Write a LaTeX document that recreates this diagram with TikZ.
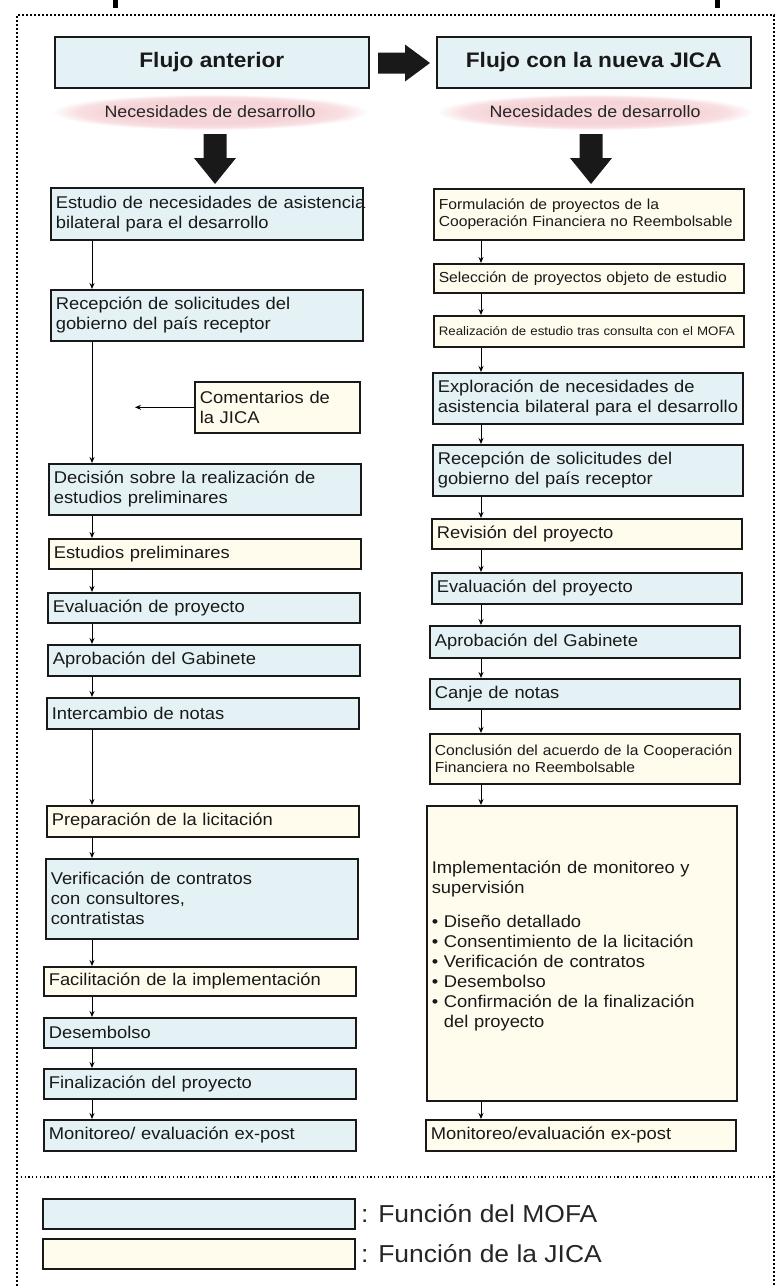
\documentclass[tikz,border=0pt]{standalone}
\usepackage{fontspec}
\setmainfont[FakeStretch=1.08]{Liberation Sans}
\usetikzlibrary{positioning,arrows.meta,shapes.geometric}

\definecolor{mofablue}{RGB}{228,242,246}
\definecolor{jicacream}{RGB}{255,252,238}
\definecolor{needpink}{RGB}{245,210,214}
\pgfdeclareradialshading{needshade}{\pgfpoint{0bp}{0bp}}{color(0bp)=(needpink!80); color(15bp)=(needpink); color(21bp)=(needpink!70); color(25bp)=(white); color(50bp)=(white)}

\newcommand\txtbox{\fontsize{17}{20}\selectfont}
\newcommand\txtsmall{\fontsize{14.5}{17.5}\selectfont}
\newcommand\txttiny{\fontsize{12.3}{14}\selectfont}
\newcommand\txthead{\fontsize{21}{24}\selectfont\bfseries}
\newcommand\txtneed{\fontsize{16.5}{19}\selectfont}
\newcommand\txtlegend{\fontsize{24.5}{28}\selectfont}

\tikzset{
  box/.style={draw=black!90, line width=1.6pt, anchor=north west, align=left,
    inner xsep=5pt, inner ysep=0pt, font=\txtbox, text=black!90},
  mofa/.style={box, fill=mofablue},
  jica/.style={box, fill=jicacream},
  colA/.style={minimum width=312pt, text width=302pt},
  colB/.style={minimum width=310pt, text width=300pt},
  head/.style={mofa, font=\txthead, align=center, minimum width=314pt, minimum height=51pt},
  need/.style={ellipse, shading=needshade, minimum width=318pt,
    minimum height=36pt, inner sep=0pt, font=\txtneed, text=black!85},
  flow/.style={line width=1pt, -{Stealth[length=6pt,width=5pt]}},
  frame/.style={line width=1.8pt, dash pattern=on 1.6pt off 2.4pt},
}

\begin{document}
\begin{tikzpicture}[x=1pt,y=-1pt]
  \useasboundingbox (0,0) rectangle (780,1286);

  % frame and title fragments
  \fill (113,0) rectangle (118,8);
  \fill (715,0) rectangle (720,8);
  \draw[frame] (17,1286) -- (17,15) -- (774,15) -- (774,1286);
  \draw[line width=1.2pt, dash pattern=on 1.2pt off 2.6pt] (17,1177) -- (774,1177);

  % headers
  \node[head] (headA) at (54,36) {Flujo anterior};
  \node[head] (headB) at (436,36) {Flujo con la nueva JICA};
  \coordinate (tipH) at (430,63);
  \fill[black!90] (tipH) -- ++(-25,-18.5) -- ++(0,8) -- ++(-27,0) -- ++(0,21) -- ++(27,0) -- ++(0,8) -- cycle;

  \node[need] (needA) at (210,112) {Necesidades de desarrollo};
  \node[need] (needB) at (595,112) {Necesidades de desarrollo};

  % big arrows
  \coordinate (tipA) at (215,184);
  \coordinate (tipB) at (591,184);
  \fill[black!90] (tipA) -- ++(21,-26) -- ++(-9.5,0) -- ++(0,-24) -- ++(-23,0) -- ++(0,24) -- ++(-9.5,0) -- cycle;
  \fill[black!90] (tipB) -- ++(21,-26) -- ++(-9.5,0) -- ++(0,-24) -- ++(-23,0) -- ++(0,24) -- ++(-9.5,0) -- cycle;

  % left column: previous flow
  \node[mofa, colA, minimum height=52pt] (estudioA) at (50,187) {\mbox{Estudio de necesidades de asistencia}\\bilateral para el desarrollo};
  \node[mofa, colA, minimum height=51pt] (recepA) at (50,289) {Recepción de solicitudes del\\gobierno del país receptor};
  \node[jica, minimum width=165pt, text width=155pt, minimum height=51pt] (comentA) at (194,381) {Comentarios de\\la JICA};
  \node[mofa, colA, minimum height=51pt] (decisionA) at (48,463) {Decisión sobre la realización de\\estudios preliminares};
  \node[jica, colA, minimum height=30pt] (prelimA) at (48,538) {Estudios preliminares};
  \node[mofa, colA, minimum height=30pt] (evalA) at (47,592) {Evaluación de proyecto};
  \node[mofa, colA, minimum height=31pt] (aprobA) at (47,644) {Aprobación del Gabinete};
  \node[mofa, colA, minimum height=31pt] (notasA) at (46,697) {Intercambio de notas};
  \node[jica, colA, minimum height=31pt] (licitA) at (46,805) {Preparación de la licitación};
  \node[mofa, colA, minimum height=80pt] (verifA) at (45,858) {Verificación de contratos\\con consultores,\\contratistas};
  \node[jica, colA, minimum height=29pt] (facilA) at (43,966) {Facilitación de la implementación};
  \node[mofa, colA, minimum height=30pt] (desembA) at (43,1017) {Desembolso};
  \node[mofa, colA, minimum height=30pt] (finalA) at (43,1068) {Finalización del proyecto};
  \node[mofa, colA, minimum height=31pt] (monitA) at (43,1119) {Monitoreo/ evaluación ex-post};

  % right column: new JICA flow
  \node[jica, colB, minimum height=51pt, font=\txtsmall] (formulB) at (433,188) {Formulación de proyectos de la\\Cooperación Financiera no Reembolsable};
  \node[jica, colB, minimum height=29pt, font=\txtsmall] (seleccB) at (433,263) {Selección de proyectos objeto de estudio};
  \node[jica, colB, minimum height=31pt, font=\txttiny] (realizB) at (433,315) {Realización de estudio tras consulta con el MOFA};
  \node[mofa, colB, minimum height=51pt] (explorB) at (432,372) {Exploración de necesidades de\\\mbox{asistencia bilateral para el desarrollo}};
  \node[mofa, colB, minimum height=51pt] (recepB) at (432,444) {Recepción de solicitudes del\\gobierno del país receptor};
  \node[jica, colB, minimum height=30pt] (revisB) at (431,518) {Revisión del proyecto};
  \node[mofa, colB, minimum height=31pt] (evalB) at (431,572) {Evaluación del proyecto};
  \node[mofa, colB, minimum height=32pt] (aprobB) at (429,625) {Aprobación del Gabinete};
  \node[mofa, colB, minimum height=30pt] (canjeB) at (429,678) {Canje de notas};
  \node[jica, colB, minimum height=50pt, font=\txtsmall] (conclB) at (429,733) {Conclusión del acuerdo de la Cooperación\\Financiera no Reembolsable};
  \node[jica, colB, minimum height=295pt] (implB) at (426,805) {Implementación de monitoreo y\\supervisión\\[14pt]
    \textbullet\ Diseño detallado\\
    \textbullet\ Consentimiento de la licitación\\
    \textbullet\ Verificación de contratos\\
    \textbullet\ Desembolso\\
    \textbullet\ Confirmación de la finalización\\
    \phantom{\textbullet\ }del proyecto\\[-2pt]\mbox{}};
  \node[jica, colB, minimum height=31pt] (monitB) at (425,1119) {Monitoreo/evaluación ex-post};

  % connectors
  \coordinate (lineA) at (92,0);
  \coordinate (lineB) at (481,0);
  \coordinate (comentEnd) at (135,0);
  \foreach \a/\b in {estudioA/recepA, recepA/decisionA, decisionA/prelimA, prelimA/evalA,
      evalA/aprobA, aprobA/notasA, notasA/licitA, licitA/verifA, verifA/facilA,
      facilA/desembA, desembA/finalA, finalA/monitA}
    \draw[flow] (\a.south -| lineA) -- (\b.north -| lineA);
  \foreach \a/\b in {formulB/seleccB, seleccB/realizB, realizB/explorB, explorB/recepB,
      recepB/revisB, revisB/evalB, evalB/aprobB, aprobB/canjeB, canjeB/conclB,
      conclB/implB, implB/monitB}
    \draw[flow] (\a.south -| lineB) -- (\b.north -| lineB);
  \draw[flow] (comentA.west) -- (comentA.west -| comentEnd);

  % legend
  \node[mofa, minimum width=312pt, minimum height=30pt] (legMofa) at (42,1198) {};
  \node[jica, minimum width=312pt, minimum height=30pt] (legJica) at (42,1238) {};
  \node[font=\txtlegend, text=black!85, right=2pt of legMofa] (legMofaTxt) {: Función del MOFA};
  \node[font=\txtlegend, text=black!85, right=2pt of legJica] (legJicaTxt) {: Función de la JICA};
\end{tikzpicture}
\end{document}
